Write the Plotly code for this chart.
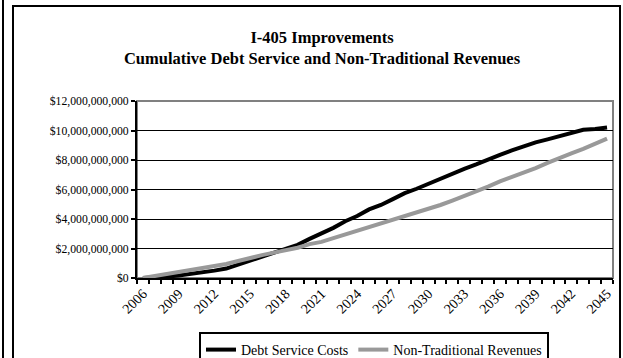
import plotly.graph_objects as go

# Fiscal years on the category axis
years = list(range(2006, 2046))

# Cumulative totals, billions of dollars
debt_service_costs = [
    0.00, 0.03, 0.09, 0.17, 0.27, 0.38, 0.50, 0.64, 0.90, 1.15,
    1.42, 1.70, 1.98, 2.25, 2.65, 3.00, 3.40, 3.85, 4.20, 4.65,
    4.95, 5.35, 5.75, 6.05, 6.40, 6.75, 7.05, 7.40, 7.70, 8.05,
    8.35, 8.65, 8.95, 9.20, 9.40, 9.60, 9.85, 10.05, 10.10, 10.20,
]
non_traditional_revenues = [
    0.00, 0.13, 0.27, 0.40, 0.53, 0.66, 0.79, 0.95, 1.15, 1.38,
    1.55, 1.72, 1.87, 2.05, 2.30, 2.45, 2.70, 2.95, 3.15, 3.45,
    3.70, 3.95, 4.20, 4.45, 4.70, 4.95, 5.25, 5.55, 5.85, 6.20,
    6.55, 6.85, 7.10, 7.45, 7.80, 8.15, 8.45, 8.75, 9.10, 9.45,
]

label_years = list(range(2006, 2046, 3))
y_ticks = [0, 2e9, 4e9, 6e9, 8e9, 10e9, 12e9]

W, H = 623, 358
PL, PR, PT, PB = 137, 613, 101, 278  # plot area in pixels
FONT = "'Liberation Serif', 'Times New Roman', 'DejaVu Serif', serif"


def px_x(x):
    return (x - PL) / (PR - PL)


def px_y(y):
    return (PB - y) / (PB - PT)


fig = go.Figure()
fig.add_trace(go.Scatter(
    x=years, y=[v * 1e9 for v in debt_service_costs],
    mode="lines", name="Debt Service Costs",
    line=dict(color="#000000", width=4),
))
fig.add_trace(go.Scatter(
    x=years, y=[v * 1e9 for v in non_traditional_revenues],
    mode="lines", name="Non-Traditional Revenues",
    line=dict(color="#999999", width=4),
))

fig.update_layout(
    width=W, height=H,
    margin=dict(l=PL, r=W - PR, t=PT, b=H - PB, pad=0),
    paper_bgcolor="white", plot_bgcolor="white",
    font=dict(family=FONT, color="black", size=11),
    title=dict(
        text="<b>I-405 Improvements<br>Cumulative Debt Service and Non-Traditional Revenues</b>",
        x=322 / W, xanchor="center", xref="container",
        y=1 - 42.5 / H, yanchor="middle", yref="container",
        font=dict(family=FONT, size=16.5, color="black"),
    ),
    showlegend=True,
    legend=dict(
        orientation="h", x=px_x(374), xanchor="center",
        y=1 - 332 / H, yanchor="top", yref="container",
        bordercolor="black", borderwidth=2, bgcolor="white",
        font=dict(family=FONT, size=14, color="black"),
        itemwidth=30, tracegroupgap=0,
    ),
    xaxis=dict(
        range=[2005.5, 2045.5], tickmode="array", tickvals=label_years,
        ticktext=[str(y) for y in label_years], tickangle=-45,
        ticks="", showgrid=False, zeroline=False,
        showline=True, linecolor="black", linewidth=2,
        tickfont=dict(family=FONT, size=14),
        minor=dict(ticks="outside", tickmode="linear", tick0=2005.5, dtick=1,
                   ticklen=4, tickwidth=2, tickcolor="black", showgrid=False),
    ),
    yaxis=dict(
        range=[0, 12e9], tickmode="array", tickvals=y_ticks,
        tickformat="$,.0f", ticks="outside", ticklen=4, tickwidth=2,
        tickcolor="black", showgrid=True, gridcolor="black", gridwidth=1,
        zeroline=False, showline=True, linecolor="black", linewidth=2,
        tickfont=dict(family=FONT, size=11.7),
    ),
    shapes=[
        # gray plot-area border (top and right)
        dict(type="rect", xref="paper", yref="paper", x0=0, y0=0, x1=1, y1=1,
             line=dict(color="#808080", width=2), layer="below"),
        # outer chart frame
        dict(type="rect", xref="paper", yref="paper",
             x0=px_x(13), x1=px_x(620), y0=px_y(366), y1=px_y(6),
             line=dict(color="black", width=2)),
        # rule at the far left edge
        dict(type="line", xref="paper", yref="paper",
             x0=px_x(3), x1=px_x(3), y0=px_y(366), y1=px_y(-10),
             line=dict(color="black", width=2)),
    ],
)

fig.write_html("out.html")
